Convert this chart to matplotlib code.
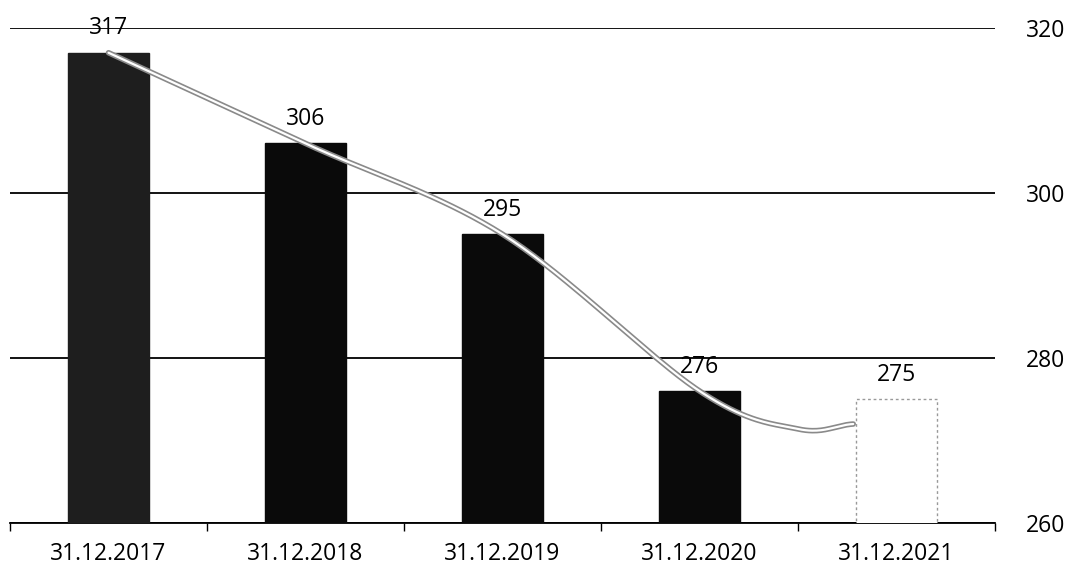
import numpy as np
import matplotlib.pyplot as plt

# Данные
categories = ['31.12.2017', '31.12.2018', '31.12.2019', '31.12.2020', '31.12.2021']
values = [317, 306, 295, 276, 275]

# сглаженная линия тренда (положения по оси x в долях категорий)
trend_x = [0, 1, 2, 3, 3.5, 3.78]
trend_y = [317, 306, 295, 276, 271.4, 272.0]


def catmull_rom(xs, ys, n=40):
    xs = np.asarray(xs, float)
    ys = np.asarray(ys, float)
    px = np.concatenate([[2*xs[0]-xs[1]], xs, [2*xs[-1]-xs[-2]]])
    py = np.concatenate([[2*ys[0]-ys[1]], ys, [ys[-1]+0.3*(ys[-1]-ys[-2])]])
    outx, outy = [], []
    t = np.linspace(0, 1, n)
    for i in range(1, len(px)-2):
        for p, out in ((px, outx), (py, outy)):
            p0, p1, p2, p3 = p[i-1], p[i], p[i+1], p[i+2]
            out.extend(0.5*((2*p1) + (-p0+p2)*t + (2*p0-5*p1+4*p2-p3)*t**2
                            + (-p0+3*p1-3*p2+p3)*t**3))
    return np.array(outx), np.array(outy)


plt.rcParams['font.family'] = ['Open Sans', 'DejaVu Sans']
fig = plt.figure(figsize=(10.67, 5.71), dpi=100)
ax = fig.add_axes([0.0094, 0.084, 0.9232, 0.867])

x = np.arange(len(categories))
colors = ['#1e1e1e', '#0a0a0a', '#0a0a0a', '#0a0a0a', 'white']
edges = ['#1e1e1e', '#0a0a0a', '#0a0a0a', '#0a0a0a', '#999999']
bars = ax.bar(x, values, width=0.41, color=colors, edgecolor=edges, linewidth=1,
              zorder=3)
bars[-1].set_linestyle((0, (2, 2)))

for xi, v in zip(x, values):
    ax.annotate(str(v), (xi, v), xytext=(0, 9), textcoords='offset points',
                ha='center', va='bottom', fontsize=16.5, zorder=5)

sx, sy = catmull_rom(trend_x, trend_y)
ax.plot(sx, sy, color='#8a8a8a', lw=4, zorder=4, solid_capstyle='round')
ax.plot(sx, sy, color='white', lw=1.6, zorder=4, solid_capstyle='round')

ax.set_xlim(-0.5, 4.5)
ax.set_ylim(260, 320)
ax.set_yticks([260, 280, 300, 320])
ax.yaxis.tick_right()
ax.tick_params(axis='y', length=0, labelsize=16.5, pad=22)
ax.grid(axis='y', color='black', lw=1.3, zorder=1)

ax.set_xticks(x)
ax.set_xticklabels(categories, fontsize=16.5)
ax.set_xticks(np.arange(-0.5, 5, 1), minor=True)
ax.tick_params(axis='x', which='major', length=0, pad=14)
ax.tick_params(axis='x', which='minor', length=6, width=1, direction='out')

for s in ['top', 'left', 'right']:
    ax.spines[s].set_visible(False)
ax.spines['bottom'].set_linewidth(1.3)

plt.savefig('out.png', dpi=100)
